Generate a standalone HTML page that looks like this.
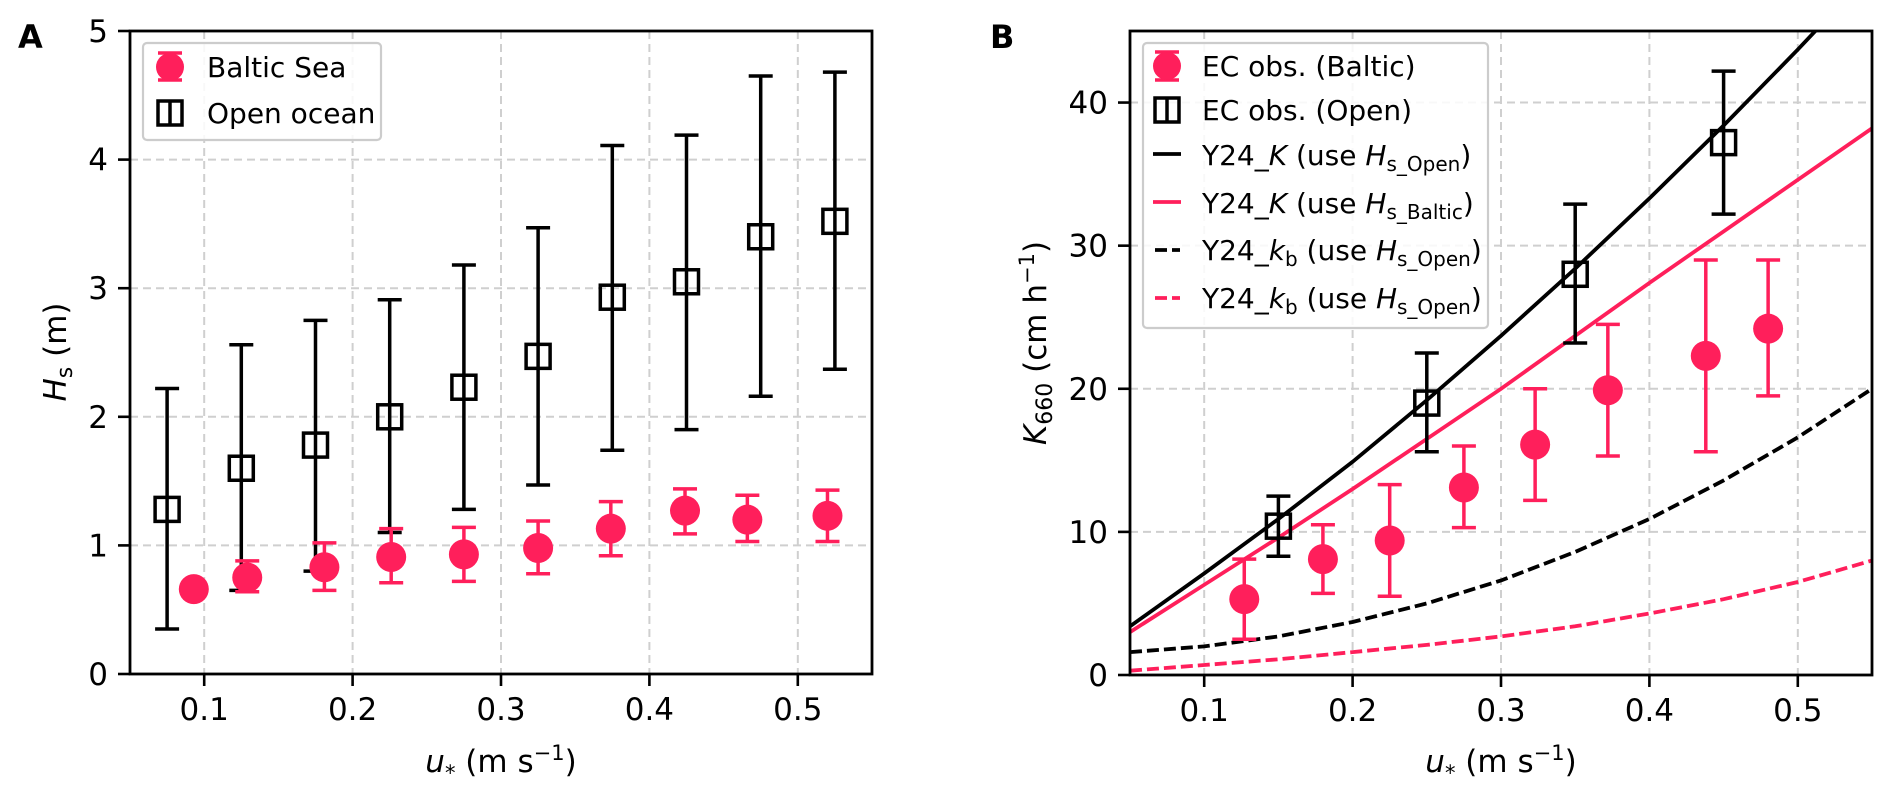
<!DOCTYPE html>
<html><head><meta charset="utf-8"><style>
html,body{margin:0;padding:0;background:#fff;}
svg{display:block;font-family:"DejaVu Sans","Liberation Sans",sans-serif;}
</style></head><body>
<svg id="fig" width="1892" height="796" viewBox="0 0 1892 796" xmlns="http://www.w3.org/2000/svg"></svg>
<script>
// ---------- Panel A data ----------
const aOpenX = [0.075,0.125,0.175,0.225,0.275,0.325,0.375,0.425,0.475,0.525];
const aOpenY = [1.28,1.60,1.78,2.00,2.23,2.47,2.93,3.05,3.40,3.52];
const aOpenLo = [0.35,0.65,0.80,1.10,1.28,1.47,1.74,1.90,2.16,2.37];
const aOpenHi = [2.22,2.56,2.75,2.91,3.18,3.47,4.11,4.19,4.65,4.68];
const aBalX = [0.093,0.129,0.181,0.226,0.275,0.325,0.374,0.424,0.466,0.520];
const aBalY = [0.66,0.75,0.83,0.91,0.93,0.98,1.13,1.27,1.20,1.23];
const aBalLo = [0.66,0.64,0.65,0.71,0.72,0.78,0.92,1.09,1.03,1.03];
const aBalHi = [0.66,0.88,1.02,1.13,1.14,1.19,1.34,1.44,1.39,1.43];
const aXTicks = [0.1,0.2,0.3,0.4,0.5];
const aXTickLabels = ["0.1","0.2","0.3","0.4","0.5"];
const aYTicks = [0,1,2,3,4,5];
const aYTickLabels = ["0","1","2","3","4","5"];
// ---------- Panel B data ----------
const bOpenX = [0.15,0.25,0.35,0.45];
const bOpenY = [10.4,19.0,28.0,37.2];
const bOpenLo = [8.3,15.6,23.2,32.2];
const bOpenHi = [12.5,22.5,32.9,42.2];
const bBalX = [0.127,0.180,0.225,0.275,0.323,0.372,0.438,0.480];
const bBalY = [5.3,8.1,9.4,13.1,16.1,19.9,22.3,24.2];
const bBalLo = [2.5,5.7,5.5,10.3,12.2,15.3,15.6,19.5];
const bBalHi = [8.1,10.5,13.3,16.0,20.0,24.5,29.0,29.0];
const curveX = [0.05,0.10,0.15,0.20,0.25,0.30,0.35,0.40,0.45,0.50,0.55];
const kOpen = [3.4,7.1,10.9,14.9,19.2,23.7,28.4,33.3,38.4,43.7,49.2];
const kBaltic = [3.0,6.3,9.6,13.0,16.5,20.0,23.7,27.4,31.0,34.6,38.2];
const kbOpen = [1.6,2.0,2.7,3.7,5.0,6.6,8.6,10.9,13.6,16.6,20.0];
const kbOpen2 = [0.3,0.7,1.1,1.6,2.1,2.7,3.4,4.3,5.3,6.5,8.0];
const bXTicks = [0.1,0.2,0.3,0.4,0.5];
const bXTickLabels = ["0.1","0.2","0.3","0.4","0.5"];
const bYTicks = [0,10,20,30,40];
const bYTickLabels = ["0","10","20","30","40"];

const NS="http://www.w3.org/2000/svg";
const fig=document.getElementById('fig');
const PINK="#FF1F5B";
function el(tag,attrs,parent){const e=document.createElementNS(NS,tag);for(const k in attrs)e.setAttribute(k,attrs[k]);(parent||fig).appendChild(e);return e;}

function panel(o){
  const g=el('g',{});
  
  
  const sx=v=>o.L+(v-o.x0)/(o.x1-o.x0)*(o.R-o.L);
  const sy=v=>o.B-(v-o.y0)/(o.y1-o.y0)*(o.B-o.T);
  const clip=el('clipPath',{id:o.name+'-clip'},g);
  el('rect',{x:o.L,y:o.T,width:o.R-o.L,height:o.B-o.T},clip);
  const grid=el('g',{},g);
  
  
  o.xt.forEach(v=>el('line',{x1:sx(v),x2:sx(v),y1:o.T,y2:o.B,stroke:'#cfcfcf','stroke-width':2,'stroke-dasharray':'8,5'},grid));
  o.yt.forEach(v=>el('line',{x1:o.L,x2:o.R,y1:sy(v),y2:sy(v),stroke:'#cfcfcf','stroke-width':2,'stroke-dasharray':'8,5'},grid));
  o.xt.forEach((v,i)=>{
    el('line',{x1:sx(v),x2:sx(v),y1:o.B,y2:o.B+12,stroke:'#000','stroke-width':2.6},g);
    const t=el('text',{x:sx(v),y:o.B+46,'text-anchor':'middle','font-size':31},g);
    
    
    t.textContent=o.xl[i];
  });
  o.yt.forEach((v,i)=>{
    el('line',{x1:o.L-12,x2:o.L,y1:sy(v),y2:sy(v),stroke:'#000','stroke-width':2.6},g);
    const t=el('text',{x:o.L-22,y:sy(v)+11,'text-anchor':'end','font-size':31},g);
    
    
    t.textContent=o.yl[i];
  });
  const plot=el('g',{'clip-path':'url(#'+o.name+'-clip)'},g);
  return {g,sx,sy,plot};
}

function errbars(p,xs,ys,lo,hi,color,kind,name){
  const grp=el('g',{},p.g);
  
  
  xs.forEach((x,i)=>{
    const cx=p.sx(x);
    if(hi[i]-lo[i]>0.001){
      el('line',{x1:cx,x2:cx,y1:p.sy(lo[i]),y2:p.sy(hi[i]),stroke:color,'stroke-width':3.5},grp);
      el('line',{x1:cx-12,x2:cx+12,y1:p.sy(lo[i]),y2:p.sy(lo[i]),stroke:color,'stroke-width':3.5},grp);
      el('line',{x1:cx-12,x2:cx+12,y1:p.sy(hi[i]),y2:p.sy(hi[i]),stroke:color,'stroke-width':3.5},grp);
    }
    let m;
    if(kind==='circle') m=el('circle',{cx:cx,cy:p.sy(ys[i]),r:15,fill:color},grp);
    else m=el('rect',{x:cx-12,y:p.sy(ys[i])-12,width:24,height:24,fill:'none',stroke:color,'stroke-width':3.5},grp);
    
    
  });
}

function curve(p,xs,ys,color,dash,name){
  const d=xs.map((x,i)=>(i?'L':'M')+p.sx(x).toFixed(1)+','+p.sy(ys[i]).toFixed(1)).join(' ');
  const path=el('path',{d:d,fill:'none',stroke:color,'stroke-width':3.8,'stroke-dasharray':dash||'none'},p.plot);
  
  
}

function frame(o){
  const r=el('rect',{x:o.L,y:o.T,width:o.R-o.L,height:o.B-o.T,fill:'none',stroke:'#000','stroke-width':2.8});
  
  
}

const oA={name:'panel-a',L:130,R:872,T:31,B:674,x0:0.05,x1:0.55,y0:0,y1:5,xt:aXTicks,xl:aXTickLabels,yt:aYTicks,yl:aYTickLabels};
const pA=panel(oA);
errbars(pA,aOpenX,aOpenY,aOpenLo,aOpenHi,'#000','square','open-ocean-series');
errbars(pA,aBalX,aBalY,aBalLo,aBalHi,PINK,'circle','baltic-sea-series');
frame(oA);

const oB={name:'panel-b',L:1130,R:1872,T:31,B:675,x0:0.05,x1:0.55,y0:0,y1:45,xt:bXTicks,xl:bXTickLabels,yt:bYTicks,yl:bYTickLabels};
const pB=panel(oB);
curve(pB,curveX,kbOpen2,PINK,'12,5','y24-kb-pink-dashed');
curve(pB,curveX,kbOpen,'#000','12,5','y24-kb-open-dashed');
curve(pB,curveX,kBaltic,PINK,null,'y24-k-baltic-line');
curve(pB,curveX,kOpen,'#000',null,'y24-k-open-line');
errbars(pB,bOpenX,bOpenY,bOpenLo,bOpenHi,'#000','square','ec-obs-open-series');
errbars(pB,bBalX,bBalY,bBalLo,bBalHi,PINK,'circle','ec-obs-baltic-series');
frame(oB);
</script>
<svg style="position:absolute;left:0;top:0" width="1892" height="796" font-family="DejaVu Sans, Liberation Sans, sans-serif">
  <text x="18" y="48" font-size="32" font-weight="bold">A</text>
  <text x="990" y="48" font-size="32" font-weight="bold">B</text>
  <text x="501" y="772" font-size="31" text-anchor="middle"><tspan font-style="italic">u</tspan><tspan font-size="21" dy="8">*</tspan><tspan dy="-8"> (m s</tspan><tspan font-size="21" dy="-12">−1</tspan><tspan dy="12">)</tspan></text>
  <text x="1501" y="772" font-size="31" text-anchor="middle"><tspan font-style="italic">u</tspan><tspan font-size="21" dy="8">*</tspan><tspan dy="-8"> (m s</tspan><tspan font-size="21" dy="-12">−1</tspan><tspan dy="12">)</tspan></text>
  <text transform="translate(66,352) rotate(-90)" font-size="31" text-anchor="middle"><tspan font-style="italic">H</tspan><tspan font-size="22" dy="6">s</tspan><tspan dy="-6"> (m)</tspan></text>
  <text transform="translate(1046,343) rotate(-90)" font-size="31" text-anchor="middle"><tspan font-style="italic">K</tspan><tspan font-size="22" dy="6">660</tspan><tspan dy="-6"> (cm h</tspan><tspan font-size="21" dy="-12">−1</tspan><tspan dy="12">)</tspan></text>
  <g>
    <rect x="143" y="43" width="238" height="97" rx="4" fill="#fff" fill-opacity="0.85" stroke="#cccccc" stroke-width="2.2"/>
    <g>
      <line x1="170" x2="170" y1="53" y2="80" stroke="#FF1F5B" stroke-width="3.5"/>
      <line x1="158" x2="182" y1="53" y2="53" stroke="#FF1F5B" stroke-width="3.5"/>
      <line x1="158" x2="182" y1="80" y2="80" stroke="#FF1F5B" stroke-width="3.5"/>
      <circle cx="170" cy="67" r="14" fill="#FF1F5B"/>
      <text x="207" y="77" font-size="28">Baltic Sea</text>
    </g>
    <g>
      <line x1="170" x2="170" y1="101" y2="126" stroke="#000" stroke-width="3.5"/>
      <rect x="158" y="101" width="24" height="24" fill="none" stroke="#000" stroke-width="3.5"/>
      <text x="207" y="123" font-size="28">Open ocean</text>
    </g>
  </g>
  <g font-size="28">
    <rect x="1143" y="43" width="345" height="285" rx="4" fill="#fff" fill-opacity="0.85" stroke="#cccccc" stroke-width="2.2"/>
    <g>
      <line x1="1167" x2="1167" y1="52" y2="80" stroke="#FF1F5B" stroke-width="3.5"/>
      <line x1="1155" x2="1179" y1="52" y2="52" stroke="#FF1F5B" stroke-width="3.5"/>
      <line x1="1155" x2="1179" y1="80" y2="80" stroke="#FF1F5B" stroke-width="3.5"/>
      <circle cx="1167" cy="66" r="14" fill="#FF1F5B"/>
      <text x="1202" y="76">EC obs. (Baltic)</text>
    </g>
    <g>
      <line x1="1167" x2="1167" y1="98" y2="122" stroke="#000" stroke-width="3.5"/>
      <rect x="1155" y="98" width="24" height="24" fill="none" stroke="#000" stroke-width="3.5"/>
      <text x="1202" y="120">EC obs. (Open)</text>
    </g>
    <g>
      <line x1="1153" x2="1181" y1="154" y2="154" stroke="#000" stroke-width="3.8"/>
      <text x="1202" y="165">Y24_<tspan font-style="italic">K</tspan> (use <tspan font-style="italic">H</tspan><tspan font-size="20" dy="6">s_Open</tspan><tspan dy="-6">)</tspan></text>
    </g>
    <g>
      <line x1="1153" x2="1181" y1="202" y2="202" stroke="#FF1F5B" stroke-width="3.8"/>
      <text x="1202" y="213">Y24_<tspan font-style="italic">K</tspan> (use <tspan font-style="italic">H</tspan><tspan font-size="20" dy="6">s_Baltic</tspan><tspan dy="-6">)</tspan></text>
    </g>
    <g>
      <line x1="1155" x2="1180" y1="250" y2="250" stroke="#000" stroke-width="3.8" stroke-dasharray="12,5"/>
      <text x="1202" y="260">Y24_<tspan font-style="italic">k</tspan><tspan font-size="20" dy="6">b</tspan><tspan dy="-6"> (use </tspan><tspan font-style="italic">H</tspan><tspan font-size="20" dy="6">s_Open</tspan><tspan dy="-6">)</tspan></text>
    </g>
    <g>
      <line x1="1155" x2="1180" y1="298" y2="298" stroke="#FF1F5B" stroke-width="3.8" stroke-dasharray="12,5"/>
      <text x="1202" y="308">Y24_<tspan font-style="italic">k</tspan><tspan font-size="20" dy="6">b</tspan><tspan dy="-6"> (use </tspan><tspan font-style="italic">H</tspan><tspan font-size="20" dy="6">s_Open</tspan><tspan dy="-6">)</tspan></text>
    </g>
  </g>
</svg>
</body></html>
